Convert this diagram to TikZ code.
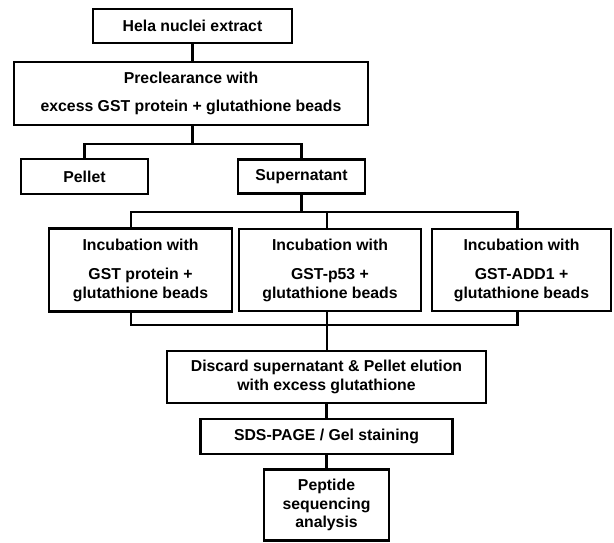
\documentclass[tikz,border=0pt]{standalone}
\usepackage{fontspec}
\setmainfont{Liberation Sans}
\begin{document}
\begin{tikzpicture}[x=1pt,y=-1pt,
  box/.style={draw, line width=2.8pt, inner sep=0pt, align=center,
    font=\fontsize{15.8}{18.8}\selectfont\bfseries},
  link/.style={line width=2.7pt}]
\useasboundingbox (0,0) rectangle (614,543);
% boxes
\node[box, minimum width=199pt, minimum height=34pt] (b1) at (192.5,26) {Hela nuclei extract};
\node[box, minimum width=354pt, minimum height=63pt] (b2) at (191,93.5)
  {Preclearance with\\[9.5pt]excess GST protein + glutathione beads};
\node[box, minimum width=127pt, minimum height=35pt] (pellet) at (84.5,176.5) {Pellet};
\node[box, minimum width=127pt, minimum height=34pt] (super) at (301.5,176.5) {Supernatant};
\node[box, minimum width=183pt, minimum height=83pt] (ia) at (140.5,270)
  {Incubation with\\[10.5pt]GST protein +\\glutathione beads};
\node[box, minimum width=182pt, minimum height=82pt] (ib) at (330,270)
  {Incubation with\\[10.5pt]GST-p53 +\\glutathione beads};
\node[box, minimum width=179pt, minimum height=82pt] (ic) at (521.5,270)
  {Incubation with\\[10.5pt]GST-ADD1 +\\glutathione beads};
\node[box, minimum width=319pt, minimum height=52pt] (d) at (326.5,377)
  {Discard supernatant \& Pellet elution\\with excess glutathione};
\node[box, minimum width=252pt, minimum height=35pt] (sds) at (326.5,436.5) {SDS-PAGE / Gel staining};
\node[box, minimum width=125pt, minimum height=71pt] (pep) at (326.5,505)
  {Peptide\\sequencing\\analysis};
% junctions
\coordinate (s1) at (192.5,144);
\coordinate (s2) at (300,212);
\coordinate (s3) at (327,325);
\coordinate (ain) at ([xshift=-9.5pt]ia.north);
\coordinate (bin) at ([xshift=-3pt]ib.north);
\coordinate (cin) at ([xshift=-4pt]ic.north);
\coordinate (aout) at ([xshift=-9.5pt]ia.south);
\coordinate (bout) at ([xshift=-3pt]ib.south);
\coordinate (cout) at ([xshift=-4pt]ic.south);
% connectors
\draw[link] (b1.south) -- (b1.south |- b2.north);
\draw[link] (b2.south -| s1) -- (s1);
\draw[link] (pellet.north) -- (pellet.north |- s1) -- (super.north |- s1) -- (super.north);
\draw[link] (super.south) -- (super.south |- s2);
\draw[link] (ain) -- (ain |- s2) -- (cin |- s2) -- (cin);
\draw[link] (bin) -- (bin |- s2);
\draw[link] (aout) -- (aout |- s3) -- (cout |- s3) -- (cout);
\draw[link] (bout) -- (bout |- d.north);
\draw[link] (d.south) -- (sds.north);
\draw[link] (sds.south) -- (pep.north);
\end{tikzpicture}
\end{document}
